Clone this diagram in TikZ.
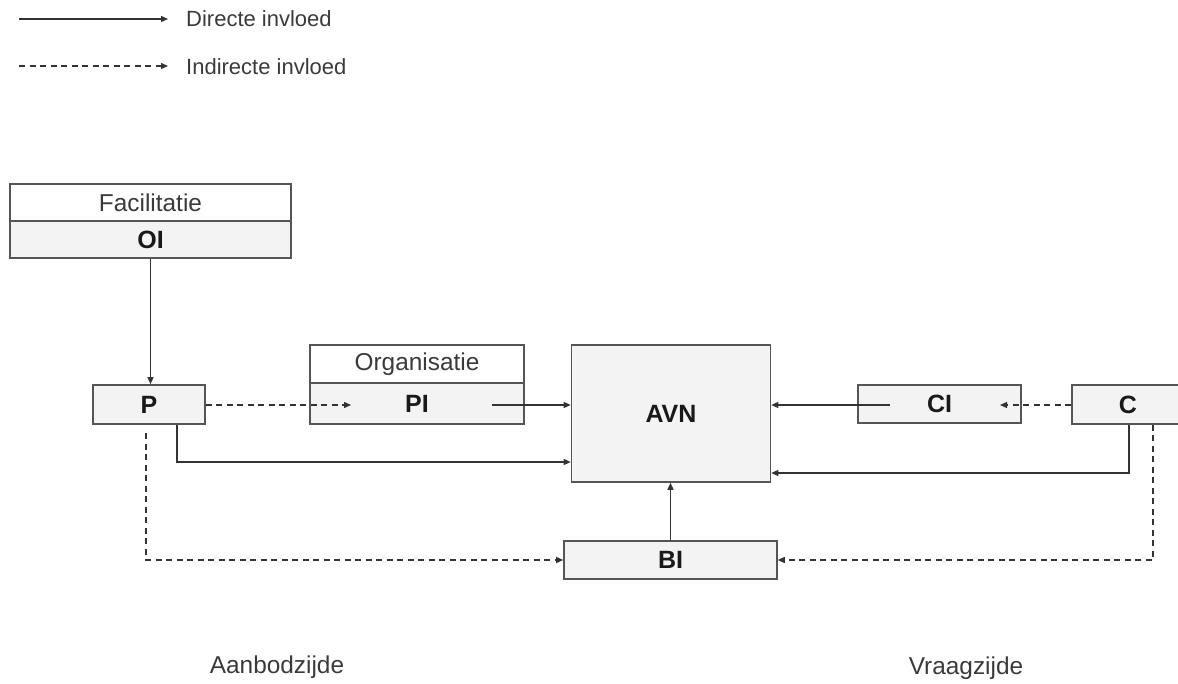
\documentclass[tikz,border=0pt]{standalone}
\usepackage{fontspec}
\setmainfont{Liberation Sans}
\usetikzlibrary{arrows.meta}
\definecolor{boxfill}{HTML}{F3F3F3}
\definecolor{boxline}{HTML}{555555}
\definecolor{linecol}{HTML}{333333}
\definecolor{txt}{HTML}{3A3A3A}
\begin{document}
\begin{tikzpicture}[x=1pt,y=-1pt,
  box/.style={draw=boxline, line width=1.6pt, fill=boxfill, inner sep=0pt,
    font=\fontsize{25}{28}\selectfont\bfseries, text=black!90},
  headbox/.style={box, fill=white, font=\fontsize{24.4}{28}\selectfont, text=txt},
  conn/.style={draw=linecol, line width=1.3pt, -{Triangle[length=7pt,width=6pt]}},
  dconn/.style={conn, dash pattern=on 6pt off 4.5pt},
  plain/.style={font=\fontsize{24.4}{28}\selectfont, text=txt, inner sep=0pt},
  legend/.style={font=\fontsize{22}{26}\selectfont, text=txt, inner sep=0pt, anchor=west}]
\useasboundingbox (0,0) rectangle (1178,684);
\clip (0,0) rectangle (1178,684);

% legend
\coordinate (l1a) at (19,19);
\coordinate (l1b) at (168,19);
\coordinate (l2a) at (19,66);
\coordinate (l2b) at (168,66);
\draw[conn] (l1a) -- (l1b);
\draw[dconn] (l2a) -- (l2b);
\node[legend] (ldir) at (186,19) {Directe invloed};
\node[legend] (lind) at (186,67) {Indirecte invloed};

% boxes
\node[headbox, minimum width=281pt, minimum height=37pt] (fac) at (150.5,202.5) {Facilitatie};
\node[box, minimum width=281pt, minimum height=37pt] (oi) at (150.5,239.5) {OI};
\node[box, minimum width=112pt, minimum height=39pt] (p) at (149,404.5) {P};
\node[headbox, minimum width=214pt, minimum height=38pt] (org) at (417,364) {Organisatie};
\node[box, minimum width=214pt, minimum height=41pt] (pi) at (417,403.5) {PI};
\node[box, minimum width=199pt, minimum height=137pt] (avn) at (671,413.5) {};
\node[font=\fontsize{25}{28}\selectfont\bfseries, text=black!90, inner sep=0pt] (avnlab) at (avn.center) {AVN};
\node[box, minimum width=163pt, minimum height=38pt] (ci) at (939.5,404) {CI};
\node[box, minimum width=112pt, minimum height=39pt] (c) at (1128,404.5) {C};
\node[box, minimum width=213pt, minimum height=38pt] (bi) at (670.5,560) {BI};

% side labels
\node[plain] (aanbod) at (277,667) {Aanbodzijde};
\node[plain] (vraag) at (966,668) {Vraagzijde};

% connector ends inside boxes
\coordinate (piin) at (351,405);
\coordinate (piout) at (492,405);
\coordinate (ciin) at (1000,405);
\coordinate (ciout) at (890,405);
\coordinate (pdash) at (146,433);

% supply side
\draw[conn] (oi.south) -- (oi.south |- p.north);
\draw[dconn] (p.east |- piin) -- (piin);
\draw[conn] (piout) -- (avn.west |- piout);
\draw[conn] (177,0 |- p.south) -- (177,462) -- (avn.west |- 0,462);
\draw[dconn] (pdash) -- (146,560) -- (bi.west);
\draw[conn] (bi.north) -- (bi.north |- avn.south);

% demand side
\draw[conn] (ciout) -- (avn.east |- ciout);
\draw[dconn] (c.west |- ciin) -- (ciin);
\draw[conn] (1129,0 |- c.south) -- (1129,473) -- (avn.east |- 0,473);
\draw[dconn] (1153,0 |- c.south) -- (1153,560) -- (bi.east);
\end{tikzpicture}
\end{document}
